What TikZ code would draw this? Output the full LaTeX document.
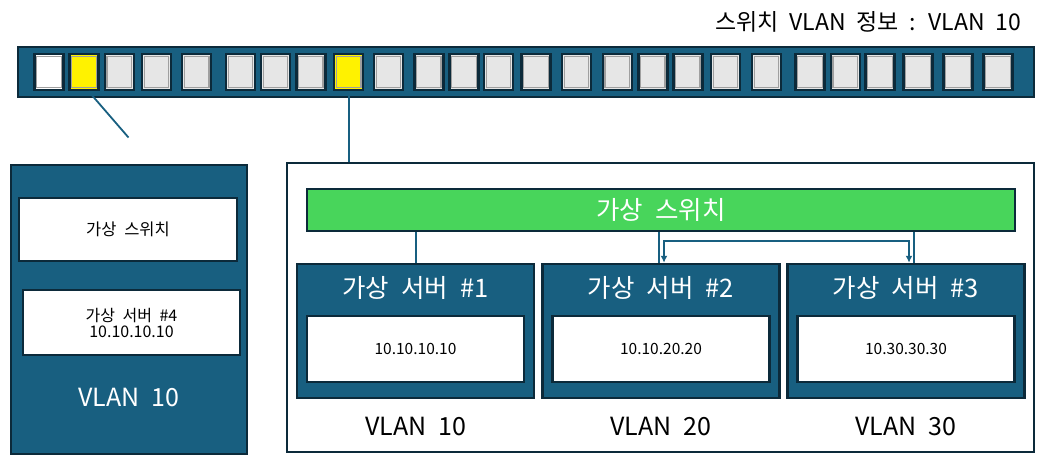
\documentclass[tikz,border=0pt]{standalone}
\usepackage{fontspec}
\setmainfont{Noto Sans CJK KR}[WordSpace=2.1]
\usepackage{tikz}
\usetikzlibrary{arrows.meta, positioning}
\definecolor{vblue}{HTML}{185F80}
\definecolor{vdark}{HTML}{0C2A3A}
\definecolor{vgreen}{HTML}{48D55B}
\definecolor{vgray}{HTML}{E6E6E6}
\newcommand{\pxfont}[1]{\fontsize{#1pt}{#1pt}\selectfont}
\tikzstyle{panel}=[draw=vdark, line width=2.5pt, fill=vblue, inner sep=0pt]
\tikzstyle{whitebox}=[draw=vdark, line width=2.5pt, fill=white, inner sep=0pt, text=black]
\tikzstyle{port}=[draw=vdark, line width=2.5pt, minimum width=29pt, minimum height=36pt, inner sep=0pt]
\tikzstyle{bevel}=[draw=gray!75, line width=1.3pt]
\tikzstyle{link}=[draw=vblue, line width=1.8pt]

\begin{document}
\begin{tikzpicture}[x=1pt, y=-1pt]
		\useasboundingbox (0,0) rectangle (1053,463);
		\node[anchor=east, font=\pxfont{23}] (title) at (1025,22) {스위치 VLAN 정보 : VLAN 10};
		\node[panel, minimum width=1016pt, minimum height=50pt] (bar) at (526,72) {};
		\foreach \px/\pc [count=\pn from 1] in {49/white, 84/yellow, 119.3/vgray, 156.5/vgray, 196.6/vgray, 240.5/vgray, 275.5/vgray, 310.8/vgray, 348.7/yellow, 388.5/vgray, 428.8/vgray, 464/vgray, 498.5/vgray, 536/vgray, 576.5/vgray, 617.3/vgray, 652.8/vgray, 687.8/vgray, 725.5/vgray, 766.5/vgray, 810/vgray, 845.3/vgray, 880/vgray, 918/vgray, 958/vgray, 998/vgray}{
			\node[port, fill=\pc] (p\pn) at (\px,72) {};
			\draw[bevel] ([shift={(3.5,3.5)}]p\pn.north west) rectangle ([shift={(-3.5,-3.5)}]p\pn.south east);
		}
		\node[panel, minimum width=236pt, minimum height=289pt] (lbox) at (129,309.5) {};
		\node[whitebox, minimum width=218pt, minimum height=63pt, font=\pxfont{16.5}] (lsw) at (128,229.5) {가상 스위치};
		\node[whitebox, minimum width=217pt, minimum height=65pt, font=\pxfont{16}, align=center] (lsrv) at (131.5,322.5) {가상 서버 \#4\\10.10.10.10};
		\node[text=white, font=\pxfont{25}] (lvlan) at (129,397) {VLAN 10};
		\node[draw=vdark, line width=2.5pt, minimum width=747pt, minimum height=289pt] (rbox) at (660.5,307.5) {};
		\node[draw=vdark, line width=2.5pt, fill=vgreen, text=white, font=\pxfont{25.5}, minimum width=708pt, minimum height=42pt] (vsw) at (661,210) {가상 스위치};
		\foreach \sx/\vl/\ip [count=\sn from 1] in {415.5/10/10.10.10.10, 661/20/10.10.20.20, 906/30/10.30.30.30}{
			\node[panel, minimum width=237pt, minimum height=134pt] (s\sn) at (\sx,331) {};
			\node[text=white, font=\pxfont{25.5}] (t\sn) at (\sx,288) {가상 서버 \#\sn};
			\node[whitebox, minimum width=217pt, minimum height=66pt, font=\pxfont{15.5}] (ip\sn) at (\sx,349) {\ip};
			\node[font=\pxfont{25}] (v\sn) at (\sx,426) {VLAN \vl};
		}
		\coordinate (ltail) at (128.5,137.5);
		\draw[link] ([xshift=4.5pt]p2.south) -- (ltail);
		\draw[link] (p9.south) -- (p9.south |- rbox.north);
		\draw[link] ([xshift=0.5pt]s1.north) -- ([xshift=0.5pt]s1.north |- vsw.south);
		\draw[link] ([xshift=-2pt]s2.north) -- ([xshift=-2pt]s2.north |- vsw.south);
		\draw[link] ([xshift=8pt]s3.north) -- ([xshift=8pt]s3.north |- vsw.south);
		\draw[link, {Latex[length=7pt,width=7pt]}-{Latex[length=7pt,width=7pt]}] ([xshift=3pt]s2.north) -- ++(0,-22) -| ([xshift=3pt]s3.north);
	\end{tikzpicture}
\end{document}
